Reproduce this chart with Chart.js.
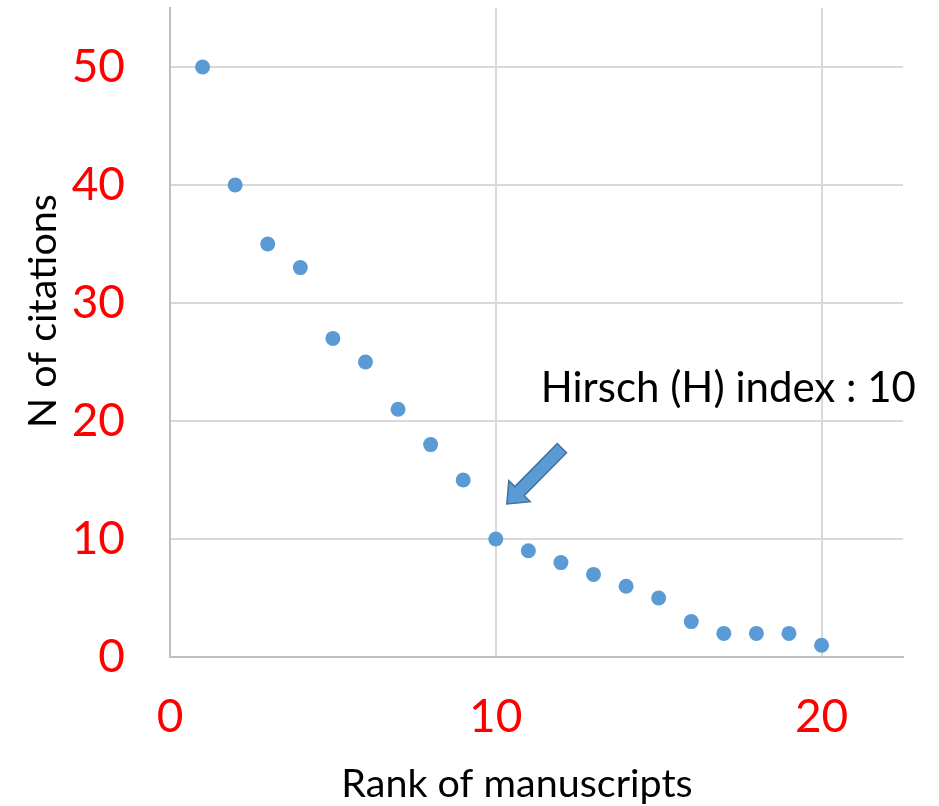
<!DOCTYPE html>
<html>
<head>
<meta charset="utf-8">
<script src="https://cdn.jsdelivr.net/npm/chart.js@4.4.1/dist/chart.umd.min.js"></script>
<style>
  body { margin: 0; background: #fff; }
  #wrap { width: 939px; height: 806px; }
</style>
</head>
<body>
<div id="wrap"><canvas id="hChart"></canvas></div>
<script>
// data
const ranks = [1, 2, 3, 4, 5, 6, 7, 8, 9, 10, 11, 12, 13, 14, 15, 16, 17, 18, 19, 20];
const citations = [50, 40, 35, 33, 27, 25, 21, 18, 15, 10, 9, 8, 7, 6, 5, 3, 2, 2, 2, 1];
const xTicks = [0, 10, 20];
const yTicks = [0, 10, 20, 30, 40, 50];
const xTitle = "Rank of manuscripts";
const yTitle = "N of citations";
const noteText = "Hirsch (H) index : 10";

const FONT = "Lato, 'Open Sans', sans-serif";

// axis titles + arrow annotation
const extras = {
    id: "extras",
    afterDatasetsDraw(chart) {
        const ctx = chart.ctx;
        const xs = chart.scales.x, ys = chart.scales.y;

        // arrow from (12.03, 17.7) to (10.34, 12.97)
        const tx = xs.getPixelForValue(12.03), ty = ys.getPixelForValue(17.7);
        const hx = xs.getPixelForValue(10.34), hy = ys.getPixelForValue(12.97);
        const ang = Math.atan2(hy - ty, hx - tx);
        const len = Math.hypot(hx - tx, hy - ty);
        const shaft = 6.5, head = 15, headLen = 18;
        ctx.save();
        ctx.translate(tx, ty);
        ctx.rotate(ang);
        ctx.beginPath();
        ctx.moveTo(0, -shaft);
        ctx.lineTo(len - headLen, -shaft);
        ctx.lineTo(len - headLen, -head);
        ctx.lineTo(len, 0);
        ctx.lineTo(len - headLen, head);
        ctx.lineTo(len - headLen, shaft);
        ctx.lineTo(0, shaft);
        ctx.closePath();
        ctx.fillStyle = "#5b9bd5";
        ctx.fill();
        ctx.lineWidth = 1.5;
        ctx.strokeStyle = "#41719c";
        ctx.stroke();
        ctx.restore();

        ctx.save();
        ctx.fillStyle = "#000";
        ctx.font = "42px " + FONT;
        ctx.textBaseline = "alphabetic";
        ctx.fillText(noteText, xs.getPixelForValue(11.38), ys.getPixelForValue(21.6));
        ctx.restore();
    },
    afterDraw(chart) {
        const ctx = chart.ctx;
        ctx.save();
        ctx.fillStyle = "#000";
        ctx.font = "39.5px " + FONT;
        ctx.textAlign = "center";
        ctx.textBaseline = "middle";
        ctx.fillText(xTitle, 517, 784);
        ctx.translate(43, 311);
        ctx.rotate(-Math.PI / 2);
        ctx.fillText(yTitle, 0, 0);
        ctx.restore();
    }
};

function noPad(s) {
    s.paddingTop = 0;
    s.paddingBottom = 0;
    s.paddingLeft = 0;
    s.paddingRight = 0;
}

const ctx = document.getElementById("hChart").getContext("2d");
new Chart(ctx, {
    type: "scatter",
    data: {
        datasets: [{
            data: ranks.map((r, i) => ({ x: r, y: citations[i] })),
            backgroundColor: "#5b9bd5",
            borderWidth: 0,
            pointRadius: 7.5,
            pointHoverRadius: 7.5
        }]
    },
    options: {
        responsive: true,
        maintainAspectRatio: false,
        animation: false,
        events: [],
        layout: { padding: { top: 8, right: 36, left: 0, bottom: 0 } },
        plugins: {
            legend: { display: false },
            tooltip: { enabled: false }
        },
        scales: {
            x: {
                type: "linear",
                min: 0,
                max: 22.5,
                afterBuildTicks: s => { s.ticks = xTicks.map(v => ({ value: v })); },
                afterFit: s => { s.height = 149; noPad(s); },
                grid: { color: "#d9d9d9", lineWidth: 2, drawTicks: false },
                border: { color: "#bfbfbf", width: 2 },
                ticks: {
                    color: "#ff0000",
                    font: { family: FONT, size: 46 },
                    padding: 33,
                    maxRotation: 0
                }
            },
            y: {
                min: 0,
                max: 55,
                afterBuildTicks: s => { s.ticks = yTicks.map(v => ({ value: v })); },
                afterFit: s => { s.width = 170; noPad(s); },
                grid: { color: "#d9d9d9", lineWidth: 2, drawTicks: false },
                border: { color: "#bfbfbf", width: 2 },
                ticks: {
                    color: "#ff0000",
                    font: { family: FONT, size: 46 },
                    padding: 45
                }
            }
        }
    },
    plugins: [extras]
});
</script>
</body>
</html>
